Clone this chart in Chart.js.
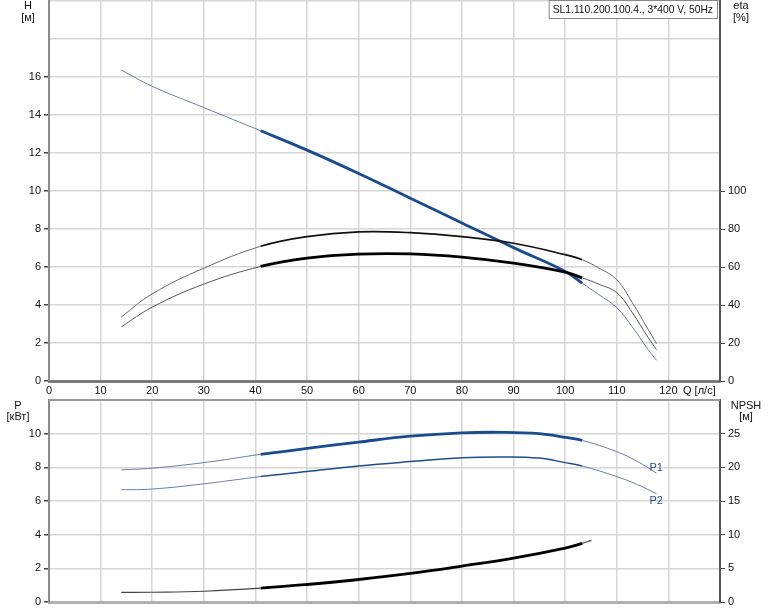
<!DOCTYPE html>
<html>
<head>
<meta charset="utf-8">
<script src="https://cdn.jsdelivr.net/npm/chart.js@4.4.1/dist/chart.umd.min.js"></script>
<style>
  body { margin: 0; background: #fff; }
  #wrap { position: relative; width: 774px; height: 611px; overflow: hidden; }
  canvas { position: absolute; left: 0; }
  #top { top: 0; }
  #bot { top: 380px; }
</style>
</head>
<body>
<div id="wrap">
  <canvas id="top" width="774" height="400"></canvas>
  <canvas id="bot" width="774" height="231"></canvas>
</div>
<script>
// flow Q [l/s] for the head / efficiency curves
var qTop = [14, 20, 30, 41, 50, 60, 70, 80, 90, 100, 103.3, 106.5, 110, 113, 116, 117.7];
var head = [16.37, 15.51, 14.39, 13.17, 12.15, 10.92, 9.62, 8.32, 7.02, 5.77, 5.15, 4.55, 3.86, 2.85, 1.68, 1.09];
var eta1 = [33.7, 45.9, 59.4, 70.9, 76.0, 78.5, 78.1, 76.0, 72.5, 66.5, 63.8, 59.5, 53.3, 41.3, 27.5, 19.7];
var eta2 = [28.5, 38.9, 51.0, 60.3, 64.7, 66.8, 66.9, 65.2, 62.0, 57.3, 54.3, 51.0, 46.5, 36.0, 23.2, 16.5];

// flow for the power curves
var qPow = [14, 20, 30, 41, 50, 60, 70, 80, 88, 95, 100, 103.3, 110, 114, 117.7];
var p1 = [7.85, 7.95, 8.28, 8.77, 9.13, 9.5, 9.85, 10.05, 10.08, 10.0, 9.78, 9.6, 8.93, 8.35, 7.65];
var p2 = [6.67, 6.71, 7.02, 7.45, 7.75, 8.08, 8.34, 8.57, 8.62, 8.55, 8.28, 8.08, 7.45, 6.98, 6.43];

// NPSH
var qNpsh = [14, 20, 30, 41, 50, 60, 70, 80, 90, 100, 103.3, 105.1];
var npsh = [1.43, 1.45, 1.6, 2.05, 2.6, 3.34, 4.24, 5.33, 6.52, 8.01, 8.7, 9.16];

var xTicksMax = 120;
var hLabelMax = 16, etaLabelMax = 100;
var pLabelMax = 10, npshLabelMax = 25;

var titleText = 'SL1.110.200.100.4., 3*400 V, 50Hz';

// operating range drawn thick
var dutyFrom = 41, dutyTo = 103.3;

var FAM = '"Liberation Sans", Arial, sans-serif';
var FONT = '11px ' + FAM;
Chart.defaults.font.family = FAM;
Chart.defaults.font.size = 11;
Chart.defaults.color = '#111';

var GRID = '#d6d6d6';

function pts(xs, ys) {
  return xs.map(function(x, i) { return {x: x, y: ys[i]}; });
}

function inDuty(ctx) {
  return ctx.p0.parsed.x >= dutyFrom - 0.01 && ctx.p1.parsed.x <= dutyTo + 0.01;
}

function curve(data, axis, thickColor, thinColor, thickW, thinW) {
  return {
    data: data,
    yAxisID: axis,
    borderColor: thickColor,
    borderWidth: thickW,
    pointRadius: 0,
    fill: false,
    tension: 0.4,
    segment: {
      borderWidth: function(ctx) { return inDuty(ctx) ? thickW : thinW; },
      borderColor: function(ctx) { return inDuty(ctx) ? thickColor : thinColor; }
    }
  };
}

// texts placed around the plot (units, title box, curve names)
var textPlugin = {
  id: 'texts',
  afterDraw: function(chart, args, opts) {
    var c = chart.ctx;
    c.save();
    c.font = FONT;
    c.textBaseline = 'middle';
    (opts.items || []).forEach(function(t) {
      c.fillStyle = t.color || '#111';
      c.textAlign = t.align || 'left';
      c.fillText(t.text, t.x, t.y);
    });
    if (opts.box) {
      c.font = '10.3px ' + FAM;
      var w = c.measureText(opts.box.text).width + 8;
      var bx = opts.box.right - w;
      c.fillStyle = '#fff';
      c.fillRect(bx, 0.5, w, 18);
      c.strokeStyle = '#888';
      c.lineWidth = 1;
      c.strokeRect(bx + 0.5, 0.5, w, 18);
      c.fillStyle = '#111';
      c.textAlign = 'left';
      c.fillText(opts.box.text, bx + 4, 10);
      c.font = FONT;
    }
    if (opts.curveNames) {
      opts.curveNames.forEach(function(n) {
        var ds = chart.data.datasets[n.ds].data;
        var last = ds[ds.length - 1];
        var px = chart.scales.x.getPixelForValue(last.x);
        var py = chart.scales.y.getPixelForValue(last.y);
        c.fillStyle = '#1f4e8c';
        c.textAlign = 'left';
        c.fillText(n.text, px - 7, py + n.dy);
      });
    }
    if (opts.topLine) {
      var a = chart.chartArea;
      c.strokeStyle = '#9a9a9a';
      c.lineWidth = 2;
      c.beginPath();
      c.moveTo(a.left, a.top);
      c.lineTo(a.right, a.top);
      c.stroke();
    }
    c.restore();
  }
};

function tickCol(limit, col) {
  return function(ctx) { return ctx.tick && ctx.tick.value <= limit ? col : 'rgba(0,0,0,0)'; };
}

function fixY(width) {
  return function(s) { s.width = width; s.paddingTop = 0; s.paddingBottom = 0; };
}

new Chart(document.getElementById('top'), {
  type: 'line',
  data: {
    datasets: [
      curve(pts(qTop, eta1), 'y2', '#111', '#666', 1.6, 1),
      curve(pts(qTop, eta2), 'y2', '#000', '#555', 2.8, 1),
      curve(pts(qTop, head), 'y', '#1a4b8c', '#6a7ca6', 2.8, 1)
    ]
  },
  plugins: [textPlugin],
  options: {
    responsive: false,
    animation: false,
    devicePixelRatio: 1,
    layout: { padding: { top: 1, left: 0, right: 0, bottom: 0 } },
    plugins: {
      legend: { display: false },
      tooltip: { enabled: false },
      texts: {
        items: [
          { text: 'H', x: 28, y: 6, align: 'center' },
          { text: '[м]', x: 28, y: 18, align: 'center' },
          { text: 'eta', x: 741, y: 6, align: 'center' },
          { text: '[%]', x: 741, y: 18, align: 'center' },
          { text: 'Q [л/с]', x: 683, y: 391 }
        ],
        box: { text: titleText, right: 717 }
      }
    },
    scales: {
      x: {
        type: 'linear', min: 0, max: 130,
        ticks: {
          stepSize: 10, padding: 3, maxRotation: 0,
          callback: function(v) { return v <= xTicksMax ? v : ''; }
        },
        grid: { color: GRID, lineWidth: 1.5, drawTicks: false },
        border: { color: '#7a7a7a', width: 3 },
        afterFit: function(s) { s.height = 19; }
      },
      y: {
        position: 'left', min: 0, max: 20,
        ticks: {
          stepSize: 2, padding: 3,
          callback: function(v) { return v <= hLabelMax ? v : ''; }
        },
        grid: { color: GRID, lineWidth: 1.5, tickLength: 5, tickColor: tickCol(hLabelMax, '#444') },
        border: { color: '#8a8a8a', width: 2 },
        afterFit: fixY(49)
      },
      y2: {
        position: 'right', min: 0, max: 200,
        ticks: {
          stepSize: 20, padding: 3,
          callback: function(v) { return v <= etaLabelMax ? v : ''; }
        },
        grid: { drawOnChartArea: false, tickLength: 5, tickColor: tickCol(etaLabelMax, '#444') },
        border: { color: '#555', width: 2 },
        afterFit: fixY(54)
      }
    }
  }
});

new Chart(document.getElementById('bot'), {
  type: 'line',
  data: {
    datasets: [
      curve(pts(qPow, p1), 'y', '#1a4b8c', '#6a7ca6', 2.8, 1),
      curve(pts(qPow, p2), 'y', '#1f4e8c', '#6a7ca6', 1.5, 1),
      curve(pts(qNpsh, npsh), 'y2', '#000', '#444', 2.8, 1.2)
    ]
  },
  plugins: [textPlugin],
  options: {
    responsive: false,
    animation: false,
    devicePixelRatio: 1,
    layout: { padding: { top: 20, left: 0, right: 0, bottom: 0 } },
    plugins: {
      legend: { display: false },
      tooltip: { enabled: false },
      texts: {
        items: [
          { text: 'P', x: 18, y: 26, align: 'center' },
          { text: '[кВт]', x: 18, y: 37, align: 'center' },
          { text: 'NPSH', x: 746, y: 26, align: 'center' },
          { text: '[м]', x: 746, y: 37, align: 'center' }
        ],
        curveNames: [ { ds: 0, text: 'P1', dy: -5 }, { ds: 1, text: 'P2', dy: 7 } ],
        topLine: true
      }
    },
    scales: {
      x: {
        type: 'linear', min: 0, max: 130,
        ticks: { display: false, stepSize: 10 },
        grid: { color: GRID, lineWidth: 1.5, drawTicks: false },
        border: { color: '#b0b0b0', width: 3 },
        afterFit: function(s) { s.height = 9; }
      },
      y: {
        position: 'left', min: 0, max: 12,
        ticks: {
          stepSize: 2, padding: 3,
          callback: function(v) { return v <= pLabelMax ? v : ''; }
        },
        grid: { color: GRID, lineWidth: 1.5, tickLength: 5, tickColor: tickCol(pLabelMax, '#444') },
        border: { color: '#8a8a8a', width: 2 },
        afterFit: fixY(49)
      },
      y2: {
        position: 'right', min: 0, max: 30,
        ticks: {
          stepSize: 5, padding: 3,
          callback: function(v) { return v <= npshLabelMax ? v : ''; }
        },
        grid: { drawOnChartArea: false, tickLength: 5, tickColor: tickCol(npshLabelMax, '#444') },
        border: { color: '#555', width: 2 },
        afterFit: fixY(54)
      }
    }
  }
});
</script>
</body>
</html>
